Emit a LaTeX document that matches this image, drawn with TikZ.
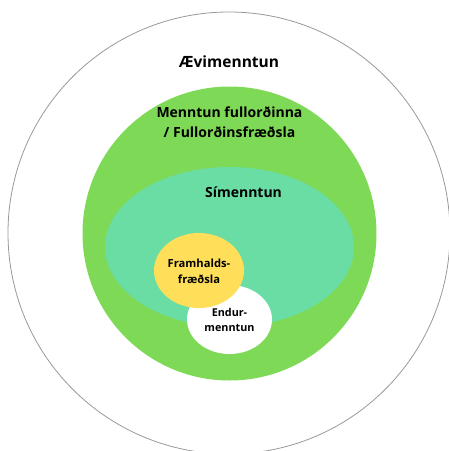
\documentclass[tikz,border=0pt]{standalone}
\usepackage{fontspec}
\setmainfont{Open Sans}
\usetikzlibrary{positioning}
\definecolor{adultgreen}{HTML}{7ED957}
\definecolor{lifeteal}{HTML}{6ADDA5}
\definecolor{furtheryellow}{HTML}{FFDE59}

\begin{document}
\begin{tikzpicture}[x=1pt, y=-1pt,
    label text/.style={font=\bfseries, align=center, text=black, inner sep=0pt}]
        % Frame
        \useasboundingbox (0,0) rectangle (449,451);
        \begin{scope}
            \clip (0,0) rectangle (449,451);
            % Outer circle (Aevimenntun)
            \draw[gray!80, line width=0.8pt] (229,233) circle [radius=221];
        \end{scope}
        \node[label text, font=\bfseries\fontsize{15.5}{17}\selectfont] (aevi) at (229,62) {Ævimenntun};
        
        % Adult education
        \fill[adultgreen] (229.5,233.5) circle [radius=147];
        \node[label text, font=\bfseries\fontsize{14}{19.5}\selectfont] (fullordnir) at (229.5,122) {Menntun fullorðinna\\/ Fullorðinsfræðsla};
        
        % Lifelong learning
        \fill[lifeteal] (229.5,247) ellipse [x radius=124.5, y radius=80];
        \node[label text, font=\bfseries\fontsize{14}{16}\selectfont] (simenntun) at (243.5,192) {Símenntun};
        
        % Retraining and further education
        \fill[white] (229.5,319.5) ellipse [x radius=42.5, y radius=34.5];
        \fill[furtheryellow] (199,270.5) ellipse [x radius=45, y radius=37.5];
        \node[label text, font=\bfseries\fontsize{11.2}{16}\selectfont] (framhald) at (199,271) {Framhalds-\\fræðsla};
        \node[label text, font=\bfseries\fontsize{10.8}{15}\selectfont] (endur) at (229.5,319.5) {Endur-\\menntun};
    \end{tikzpicture}
\end{document}
